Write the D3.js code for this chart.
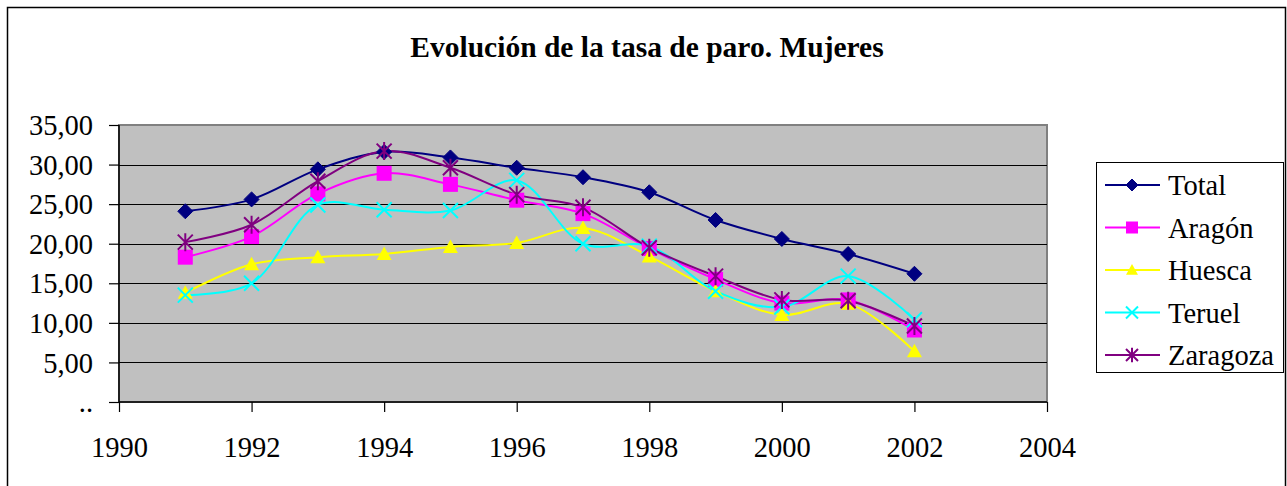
<!DOCTYPE html>
<html>
<head>
<meta charset="utf-8">
<script src="https://cdn.jsdelivr.net/npm/d3@7"></script>
<style>
  body { margin: 0; background: #fff; }
</style>
</head>
<body>
<svg id="chart" width="1287" height="486"></svg>
<script>
// data
var years = [1991, 1992, 1993, 1994, 1995, 1996, 1997, 1998, 1999, 2000, 2001, 2002]
var total    = [24.1, 25.6, 29.4, 31.6, 30.9, 29.6, 28.4, 26.5, 23.0, 20.6, 18.7, 16.2]
var aragon   = [18.3, 20.9, 26.3, 28.9, 27.5, 25.5, 23.8, 19.4, 15.5, 12.5, 12.9, 9.1]
var huesca   = [13.8, 17.4, 18.3, 18.7, 19.6, 20.1, 22.0, 18.4, 14.0, 11.0, 12.4, 6.4]
var teruel   = [13.5, 15.0, 24.9, 24.3, 24.2, 28.0, 20.0, 19.7, 14.0, 12.0, 15.9, 10.4]
var zaragoza = [20.2, 22.4, 27.9, 31.7, 29.6, 26.2, 24.6, 19.5, 15.9, 12.9, 12.8, 9.6]
var yTicks = [0, 5, 10, 15, 20, 25, 30, 35]
var xTicks = [1990, 1992, 1994, 1996, 1998, 2000, 2002, 2004]
var title = 'Evolución de la tasa de paro. Mujeres'

var series = [
  { name: 'Total', values: total, color: '#000080', marker: 'diamond' },
  { name: 'Aragón', values: aragon, color: '#ff00ff', marker: 'square' },
  { name: 'Huesca', values: huesca, color: '#ffff00', marker: 'triangle' },
  { name: 'Teruel', values: teruel, color: '#00ffff', marker: 'x' },
  { name: 'Zaragoza', values: zaragoza, color: '#800080', marker: 'star' }
]

var serif = "'Liberation Serif', 'Times New Roman', 'DejaVu Serif', serif"

var svg = d3.select('#chart')
  .attr('font-family', serif)

// outer chart border
svg.append('path')
  .attr('d', 'M7.5,486 V7.5 H1285.5 V486')
  .style('fill', 'none')
  .style('stroke', '#000')
  .style('stroke-width', 1.5)

svg.append('text')
  .attr('x', 647)
  .attr('y', 57)
  .attr('text-anchor', 'middle')
  .style('font-family', serif)
  .style('font-weight', 'bold')
  .style('font-size', '29.5px')
  .text(title)

var x = d3.scaleLinear().domain([1990, 2004]).range([119, 1047])
var y = d3.scaleLinear().domain([0, 35]).range([402, 125])

// plot area
svg.append('rect')
  .attr('x', x(1990))
  .attr('y', y(35))
  .attr('width', x(2004) - x(1990))
  .attr('height', y(0) - y(35))
  .style('fill', '#c0c0c0')
  .style('stroke', '#808080')
  .style('stroke-width', 2)

// gridlines
svg.append('g')
  .selectAll('line')
  .data(yTicks.filter(function (d) { return d > 0 && d < 35 }))
  .join('line')
  .attr('x1', x(1990))
  .attr('x2', x(2004))
  .attr('y1', function (d) { return Math.round(y(d)) + 0.5 })
  .attr('y2', function (d) { return Math.round(y(d)) + 0.5 })
  .style('stroke', '#000')
  .style('stroke-width', 1.2)

var fmt = function (d) { return d === 0 ? '..' : d3.format('.2f')(d).replace('.', ',') }

var yAxis = svg.append('g')
  .attr('transform', 'translate(' + x(1990) + ',0)')
  .call(d3.axisLeft(y).tickValues(yTicks).tickFormat(fmt).tickSize(10).tickPadding(16))
  .attr('font-family', serif)
yAxis.select('.domain').remove()
yAxis.selectAll('line').style('stroke', '#000').style('stroke-width', 1.2)
yAxis.selectAll('text').style('font-size', '28.5px').style('fill', '#000')
  .style('font-family', serif)
  .attr('dy', '0.34em')

var xAxis = svg.append('g')
  .attr('transform', 'translate(0,' + y(0) + ')')
  .call(d3.axisBottom(x).tickValues(xTicks).tickFormat(d3.format('d')).tickSize(10).tickPadding(25))
  .attr('font-family', serif)
xAxis.select('.domain').remove()
xAxis.selectAll('line').style('stroke', '#000').style('stroke-width', 1.2)
xAxis.selectAll('text').style('font-size', '28.5px').style('fill', '#000')
  .style('font-family', serif)

// axis lines
svg.append('line')
  .attr('x1', x(1990)).attr('x2', x(1990))
  .attr('y1', y(35)).attr('y2', y(0))
  .style('stroke', '#000').style('stroke-width', 1.5)
svg.append('line')
  .attr('x1', x(1990)).attr('x2', x(2004))
  .attr('y1', y(0)).attr('y2', y(0))
  .style('stroke', '#000').style('stroke-width', 1.5)

function drawMarker (g, type, color, s) {
  if (type === 'diamond') {
    g.append('path').attr('d', 'M0,' + -s + 'L' + s + ',0L0,' + s + 'L' + -s + ',0Z')
      .style('fill', color).style('stroke', color)
  } else if (type === 'square') {
    g.append('rect').attr('x', -s).attr('y', -s).attr('width', 2 * s).attr('height', 2 * s)
      .style('fill', color)
  } else if (type === 'triangle') {
    g.append('path').attr('d', 'M0,' + (-s) + 'L' + s + ',' + (s * 0.8) + 'L' + -s + ',' + (s * 0.8) + 'Z')
      .style('fill', color)
  } else if (type === 'x') {
    g.append('path').attr('d', 'M' + -s + ',' + -s + 'L' + s + ',' + s + 'M' + s + ',' + -s + 'L' + -s + ',' + s)
      .style('stroke', color).style('stroke-width', 2).style('fill', 'none')
  } else if (type === 'star') {
    g.append('path').attr('d', 'M' + -s + ',' + -s + 'L' + s + ',' + s + 'M' + s + ',' + -s + 'L' + -s + ',' + s +
      'M0,' + -s * 1.2 + 'L0,' + s * 1.2)
      .style('stroke', color).style('stroke-width', 2).style('fill', 'none')
  }
}

var line = d3.line()
  .x(function (d, i) { return x(years[i]) })
  .y(function (d) { return y(d) })
  .curve(d3.curveCatmullRom.alpha(0.5))

series.forEach(function (s) {
  svg.append('path')
    .attr('d', line(s.values))
    .style('fill', 'none')
    .style('stroke', s.color)
    .style('stroke-width', 2)
})
series.forEach(function (s) {
  s.values.forEach(function (v, i) {
    var g = svg.append('g').attr('transform', 'translate(' + x(years[i]) + ',' + y(v) + ')')
    drawMarker(g, s.marker, s.color, 7.5)
  })
})

// legend
var legend = svg.append('g')
legend.append('rect')
  .attr('x', 1096.5).attr('y', 162.5)
  .attr('width', 187).attr('height', 210)
  .style('fill', '#fff')
  .style('stroke', '#000')
  .style('stroke-width', 1)
series.forEach(function (s, i) {
  var cy = 185 + i * 42.5
  legend.append('line')
    .attr('x1', 1105).attr('x2', 1160)
    .attr('y1', cy).attr('y2', cy)
    .style('stroke', s.color).style('stroke-width', 2)
  var g = legend.append('g').attr('transform', 'translate(1132,' + cy + ')')
  drawMarker(g, s.marker, s.color, 6)
  legend.append('text')
    .attr('x', 1168).attr('y', cy + 10)
    .style('font-family', serif)
    .style('font-size', '28.5px')
    .text(s.name)
})
</script>
</body>
</html>
